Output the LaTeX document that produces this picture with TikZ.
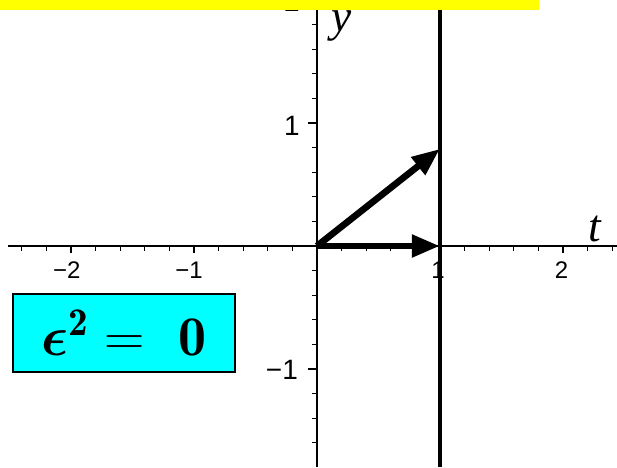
\RequirePackage{fix-cm}
\documentclass[tikz,border=0pt]{standalone}
\usepackage{amsmath}
\usepackage{fontspec}
\usepackage{tikz}
\usetikzlibrary{arrows.meta}
\newfontfamily\arialfont{Liberation Sans}
\newfontfamily\timesfont{Liberation Serif}
\definecolor{myyellow}{RGB}{255,255,0}
\definecolor{mycyan}{RGB}{0,255,255}
\newcommand{\epseq}{$\boldsymbol{\epsilon}^{\mathbf{2}} = \mkern6mu\mathbf{0}$}
\tikzstyle{xnum}     = [font=\arialfont\fontsize{18}{19}\selectfont, inner sep=0pt]
\tikzstyle{ynum}     = [font=\arialfont\fontsize{21}{22}\selectfont, inner sep=0pt]
\tikzstyle{axisname} = [font=\timesfont\itshape\fontsize{34}{36}\selectfont, inner sep=0pt]
\tikzstyle{vec}      = [-{Triangle[length=21pt, width=16pt]}, line width=5pt]

\begin{document}
\begin{tikzpicture}[x=92.25pt, y=92.25pt,
      epsbox/.style={rectangle, draw=black, line width=1.5pt, fill=mycyan,
                     minimum width=166.5pt, minimum height=58.5pt, inner sep=0pt,
                     font=\fontsize{42}{48}\selectfont},
    ]
    \useasboundingbox (-2.577,-1.797) rectangle (2.439,2.0);

    % axes and ticks
    \draw[line width=1pt] (-2.51,0) -- (2.439,0);
    \draw[line width=1pt] (0,-1.797) -- (0,2.0);
    \foreach \x in {-2.4,-2.2,...,2.45}
      \draw[line width=0.8pt] (\x,0) -- (\x,-0.04);
    \foreach \x in {-2,-1,1,2}
      \draw[line width=0.8pt] (\x,0) -- (\x,-0.06);
    \foreach \y in {-1.6,-1.4,...,2.05}
      \draw[line width=0.8pt] (0,\y) -- (-0.04,\y);
    \foreach \y in {-1,1,2}
      \draw[line width=0.8pt] (0,\y) -- (-0.075,\y);

    \node[xnum] (xm2) at (-2.033,-0.199) {−2};
    \node[xnum] (xm1) at (-1.04,-0.199)  {−1};
    \node[xnum] (xp1) at (0.985,-0.199)  {1};
    \node[xnum] (xp2) at (1.988,-0.199)  {2};
    \node[ynum] (ym1) at (-0.285,-1.008) {−1};
    \node[ynum] (yp1) at (-0.203,0.976)  {1};
    \node[ynum] (yp2) at (-0.203,1.984)  {2};

    \node[axisname] (tname) at (2.26,0.142) {t};
    \node[axisname] (yname) at (0.203,1.787) {y};

    % the line t = 1
    \draw[line width=3pt] (1,-1.797) -- (1,2.0);

    % the two vectors
    \coordinate (o)  at (0,0);
    \coordinate (e1) at (1,0);
    \coordinate (e2) at (1,0.79);
    \draw[vec] (o) -- (e1);
    \draw[vec] (o) -- (e2);

    \node[epsbox] (epsnode) at (-1.569,-0.707) {\epseq};

    \fill[myyellow] (-2.577,2.0) rectangle (1.805,1.915);
  \end{tikzpicture}
\end{document}
